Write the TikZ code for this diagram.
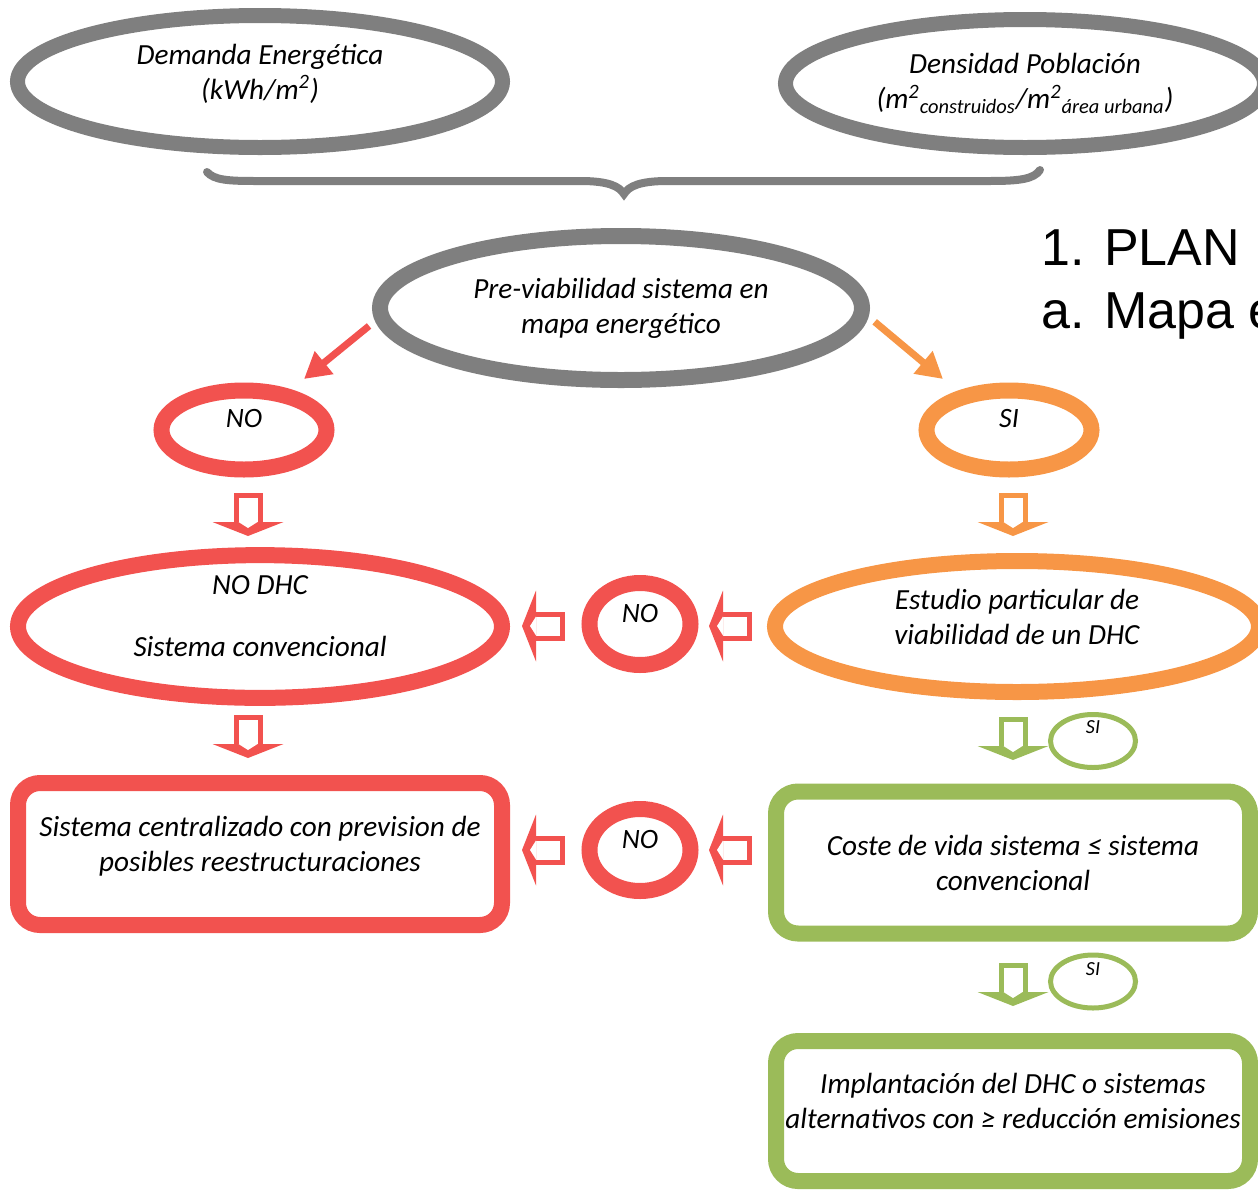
\documentclass[tikz,border=0pt]{standalone}
\usepackage{fontspec}
\setmainfont{Carlito}
\newfontfamily\titlefont{Liberation Sans}
\usetikzlibrary{positioning,arrows.meta,shapes.geometric}
\definecolor{gris}{HTML}{7F7F7F}
\definecolor{rojo}{HTML}{F2524F}
\definecolor{naranja}{HTML}{F79646}
\definecolor{verde}{HTML}{9BBB59}
\def\msq{m\textsuperscript{2}}
% block arrow: x, y (tail end), rotation, colour
\newcommand{\flecha}[4]{%
  \begin{scope}[shift={(#1,#2)}, rotate=#3, #4]
    \draw[line width=2.5pt] (-12,29) -- (-12,2.5) -- (12,2.5) -- (12,29);
    \fill (-35.5,29) -- (35.5,29) -- (0,43) -- cycle;
    \fill[white] (-9.5,29) -- (9.5,29) -- (0,35) -- cycle;
  \end{scope}}

\begin{document}
\begin{tikzpicture}[x=0.5pt, y=-0.5pt, >={Triangle[length=13pt, width=14pt]},
	txt/.style={font=\itshape\fontsize{14.6}{17.5}\selectfont, align=center, inner sep=0pt},
	oval/.style={ellipse, draw=#1, line width=8pt, txt},
	caja/.style={rectangle, rounded corners=11pt, draw=#1, line width=8pt, txt, minimum width=242pt, minimum height=71pt},
	etiq/.style={font=\itshape\fontsize{14}{17}\selectfont},
	etiqs/.style={font=\itshape\fontsize{10}{12}\selectfont, inner sep=0pt},
	lift/.style={execute at end node={\rule[-#1]{0pt}{#1}}},
	titulo/.style={font=\titlefont\fontsize{26}{31}\selectfont, inner sep=0pt},
	conn/.style={line width=3.5pt, shorten <=4pt, ->}]
	\useasboundingbox (0,0) rectangle (1258,1189);
	\draw (260,81.5)node[oval=gris, line width=7.5pt, minimum width=242.5pt, minimum height=66pt, lift=10pt](demanda){Demanda Energética\\(kWh/\msq)};
	\draw (1025,83.5)node[oval=gris, line width=7.5pt, minimum width=239.5pt, minimum height=64pt](densidad){Densidad Población\\(\msq\textsubscript{construidos}/\msq\textsubscript{área urbana})};
	\draw[gris, line width=4pt, line cap=round] (207,172) .. controls (214,180) and (228,181) .. (255,181) -- (580,181) .. controls (608,181) and (619,186) .. (624,194) .. controls (629,186) and (640,181) .. (668,181) -- (990,181) .. controls (1020,181) and (1034,179) .. (1040,170);
	\draw (1041,265)node[titulo, anchor=base west](plan){1. PLAN};
	\draw (1041,328)node[titulo, anchor=base west](mapa){a. Mapa e};
	\draw (621,308)node[oval=gris, minimum width=241pt, minimum height=72pt](previa){Pre-viabilidad sistema en\\mapa energético};
	\draw (244,430)node[oval=rojo, minimum width=82.5pt, minimum height=39.5pt, etiq, lift=12pt](no){NO};
	\draw (1009,430)node[oval=naranja, minimum width=82.5pt, minimum height=39.5pt, etiq, lift=12pt](si){SI};
	\draw (260,626.5)node[oval=rojo, minimum width=242pt, minimum height=65.5pt, lift=10pt](nodhc){NO DHC\\[13.5pt]Sistema convencional};
	\draw (1017,626.5)node[oval=naranja, minimum width=242pt, minimum height=65.5pt, lift=10pt](estudio){Estudio particular de\\viabilidad de un DHC};
	\draw (640,624)node[oval=rojo, minimum width=50.5pt, minimum height=41pt, etiq, lift=11pt](noa){NO};
	\draw (640,850)node[oval=rojo, minimum width=50.5pt, minimum height=41pt, etiq, lift=11pt](nob){NO};
	\draw (260,854)node[caja=rojo, lift=10pt](centralizado){Sistema centralizado con prevision de\\posibles reestructuraciones};
	\draw (1013,862.5)node[caja=verde, minimum width=237pt](coste){Coste de vida sistema ≤ sistema\\convencional};
	\draw (1013,1111)node[caja=verde, minimum width=237pt, minimum height=70pt, lift=10pt](implantacion){Implantación del DHC o sistemas\\alternativos con ≥ reducción emisiones};
	\draw (1093,741)node[ellipse, draw=verde, line width=2.5pt, minimum width=42.5pt, minimum height=26.5pt, label={[etiqs, yshift=7pt]center:SI}](sia){};
	\draw (1093,981.5)node[ellipse, draw=verde, line width=2.5pt, minimum width=42.5pt, minimum height=26.5pt, label={[etiqs, yshift=6pt]center:SI}](sib){};
	\coordinate (noin) at (304,379);
	\coordinate (siin) at (943,379);
	\draw[conn, rojo] (previa.183) -- (noin);
	\draw[conn, naranja] (previa.358) -- (siin);
	\flecha{248}{493}{0}{rojo}
	\flecha{1013}{493}{0}{naranja}
	\flecha{248}{715}{0}{rojo}
	\flecha{1013}{717}{0}{verde}
	\flecha{1013}{963}{0}{verde}
	\flecha{565}{626}{-90}{rojo}
	\flecha{752}{626}{-90}{rojo}
	\flecha{565}{850}{-90}{rojo}
	\flecha{752}{850}{-90}{rojo}
\end{tikzpicture}
\end{document}
